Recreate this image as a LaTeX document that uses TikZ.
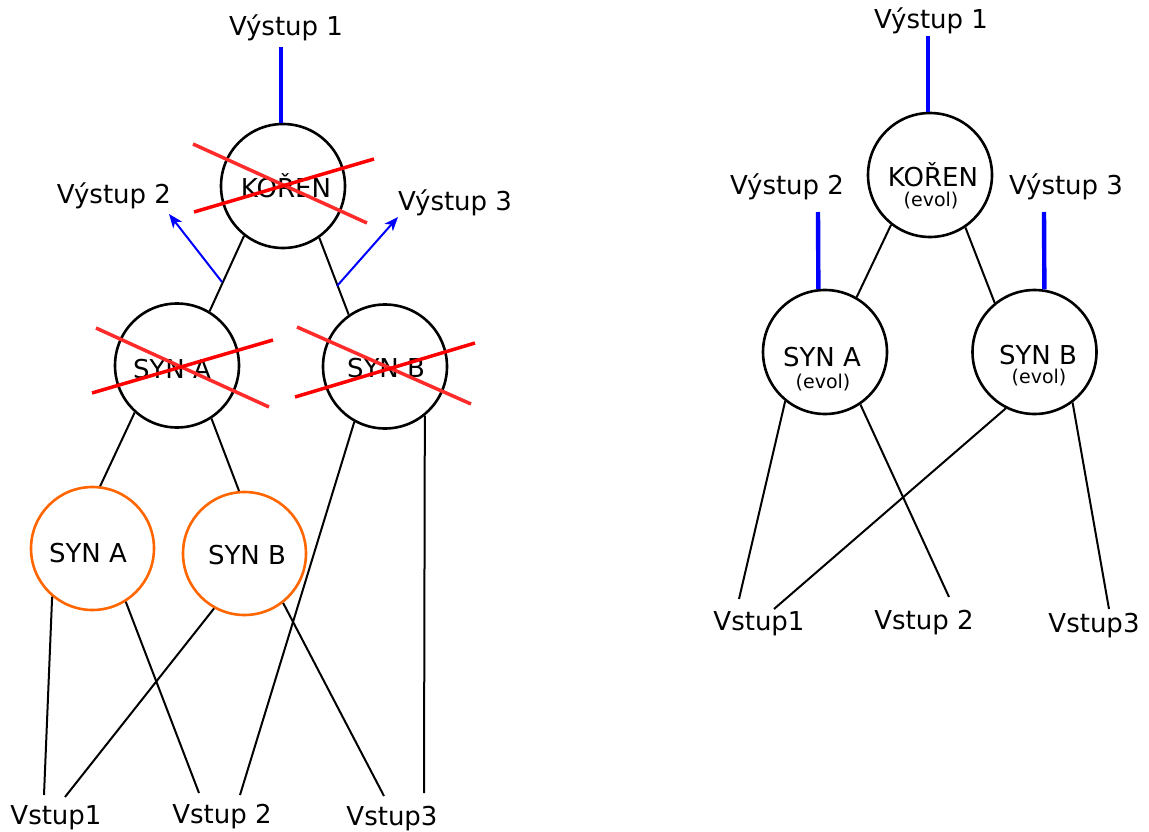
\documentclass[tikz,border=0pt]{standalone}
\usepackage{fontspec}
\setmainfont{DejaVu Sans}
\usetikzlibrary{arrows.meta}
\begin{document}
\begin{tikzpicture}[x=1pt,y=-1pt,
  txt/.style={anchor=base,inner sep=0pt,font=\fontsize{26}{31}\selectfont},
  smalltxt/.style={anchor=base,inner sep=0pt,font=\fontsize{19}{23}\selectfont},
  bnode/.style={circle,draw=black,line width=2.6pt,minimum size=124pt,inner sep=0pt},
  onode/.style={circle,draw={rgb,255:red,255;green,102;blue,0},line width=2.6pt,minimum size=123pt,inner sep=0pt},
  edge/.style={draw=black,line width=2pt},
  outline/.style={draw={rgb,255:red,0;green,0;blue,255},line width=4.4pt},
  outarrow/.style={draw={rgb,255:red,0;green,0;blue,255},line width=2pt,-{Stealth[length=14pt,width=11pt,inset=4pt]}},
  crossA/.style={draw={rgb,255:red,255;green,42;blue,42},line width=3.5pt},
  crossB/.style={draw={rgb,255:red,255;green,0;blue,0},line width=3.5pt}]
\useasboundingbox (0,0) rectangle (1149,832);

% ---------- left tree ----------
\node[bnode] (koren) at (283,186) {};
\node[bnode] (synA) at (177,365.5) {};
\node[bnode] (synB) at (385,366.5) {};
\node[onode] (osynA) at (92.5,548.5) {};
\node[onode] (osynB) at (244.5,553.5) {};

\node[txt] (tkoren) at (286,197) {KOŘEN};
\node[txt] (tsynA) at (172,378) {SYN A};
\node[txt] (tsynB) at (386,377) {SYN B};
\node[txt] (tosynA) at (88,562) {SYN A};
\node[txt] (tosynB) at (247,564) {SYN B};

\node[txt] (lv1) at (286,36) {Výstup 1};
\node[txt] (lv2) at (114,204) {Výstup 2};
\node[txt] (lv3) at (455,211) {Výstup 3};
\node[txt] (li1) at (56,824) {Vstup1};
\node[txt] (li2) at (222,823) {Vstup 2};
\node[txt] (li3) at (392,825) {Vstup3};

\coordinate (v1end) at (281,47);
\coordinate (a2start) at (222,282);
\coordinate (a2end) at (169,214);
\coordinate (a3start) at (337,286);
\coordinate (a3end) at (398,217);
\coordinate (i1a) at (44,795);
\coordinate (i1b) at (65,797);
\coordinate (i2a) at (199,793);
\coordinate (i2b) at (240,795);
\coordinate (i3a) at (384,796);
\coordinate (i3b) at (424,793);

\draw[outline] (v1end |- koren.north) -- (v1end);
\draw[edge] (koren.232) -- (synA.59);
\draw[edge] (koren.305) -- (synB.125.5);
\draw[outarrow] (a2start) -- (a2end);
\draw[outarrow] (a3start) -- (a3end);
\draw[edge] (synA.228) -- (osynA.83);
\draw[edge] (synA.303) -- (osynB.95);
\draw[edge] (synB.241.6) -- (i2b);
\draw[edge] (synB.309) -- (i3b);
\draw[edge] (osynA.230.8) -- (i1a);
\draw[edge] (osynA.302) -- (i2a);
\draw[edge] (osynB.241.2) -- (i1b);
\draw[edge] (osynB.308) -- (i3a);

% red crosses
\draw[crossA] (193,144) -- (367,223);
\draw[crossB] (194,212) -- (374,159);
\draw[crossA] (96,328) -- (269,407);
\draw[crossB] (92,393) -- (273,340);
\draw[crossA] (297,327) -- (471,404);
\draw[crossB] (295,397) -- (475,343);

% ---------- right tree ----------
\node[bnode] (rkoren) at (930,175) {};
\node[bnode] (rsynA) at (825,352) {};
\node[bnode] (rsynB) at (1034.5,352) {};

\node[txt] (trkoren) at (933,186) {KOŘEN};
\node[smalltxt] (trkorenE) at (931,207) {(evol)};
\node[txt] (trsynA) at (822,366) {SYN A};
\node[smalltxt] (trsynAE) at (823,388) {(evol)};
\node[txt] (trsynB) at (1038,364) {SYN B};
\node[smalltxt] (trsynBE) at (1039,383) {(evol)};

\node[txt] (rv1) at (931,29) {Výstup 1};
\node[txt] (rv2) at (787,194) {Výstup 2};
\node[txt] (rv3) at (1066,194) {Výstup 3};
\node[txt] (ri1) at (759,630) {Vstup1};
\node[txt] (ri2) at (924,629) {Vstup 2};
\node[txt] (ri3) at (1094,632) {Vstup3};

\coordinate (rv1end) at (928,36);
\coordinate (rv2end) at (818,212);
\coordinate (rv3end) at (1044,212);
\coordinate (ri1a) at (739,599);
\coordinate (ri1b) at (774,609);
\coordinate (ri2a) at (949,597);
\coordinate (ri3a) at (1109,609);

\draw[outline] (rv1end |- rkoren.north) -- (rv1end);
\draw[outline] (rsynA.96.5) -- (rv2end);
\draw[outline] (rsynB.81) -- (rv3end);
\draw[edge] (rkoren.232) -- (rsynA.60);
\draw[edge] (rkoren.304) -- (rsynB.129.6);
\draw[edge] (rsynA.231) -- (ri1a);
\draw[edge] (rsynA.304) -- (ri2a);
\draw[edge] (rsynB.243) -- (ri1b);
\draw[edge] (rsynB.307) -- (ri3a);
\end{tikzpicture}
\end{document}
